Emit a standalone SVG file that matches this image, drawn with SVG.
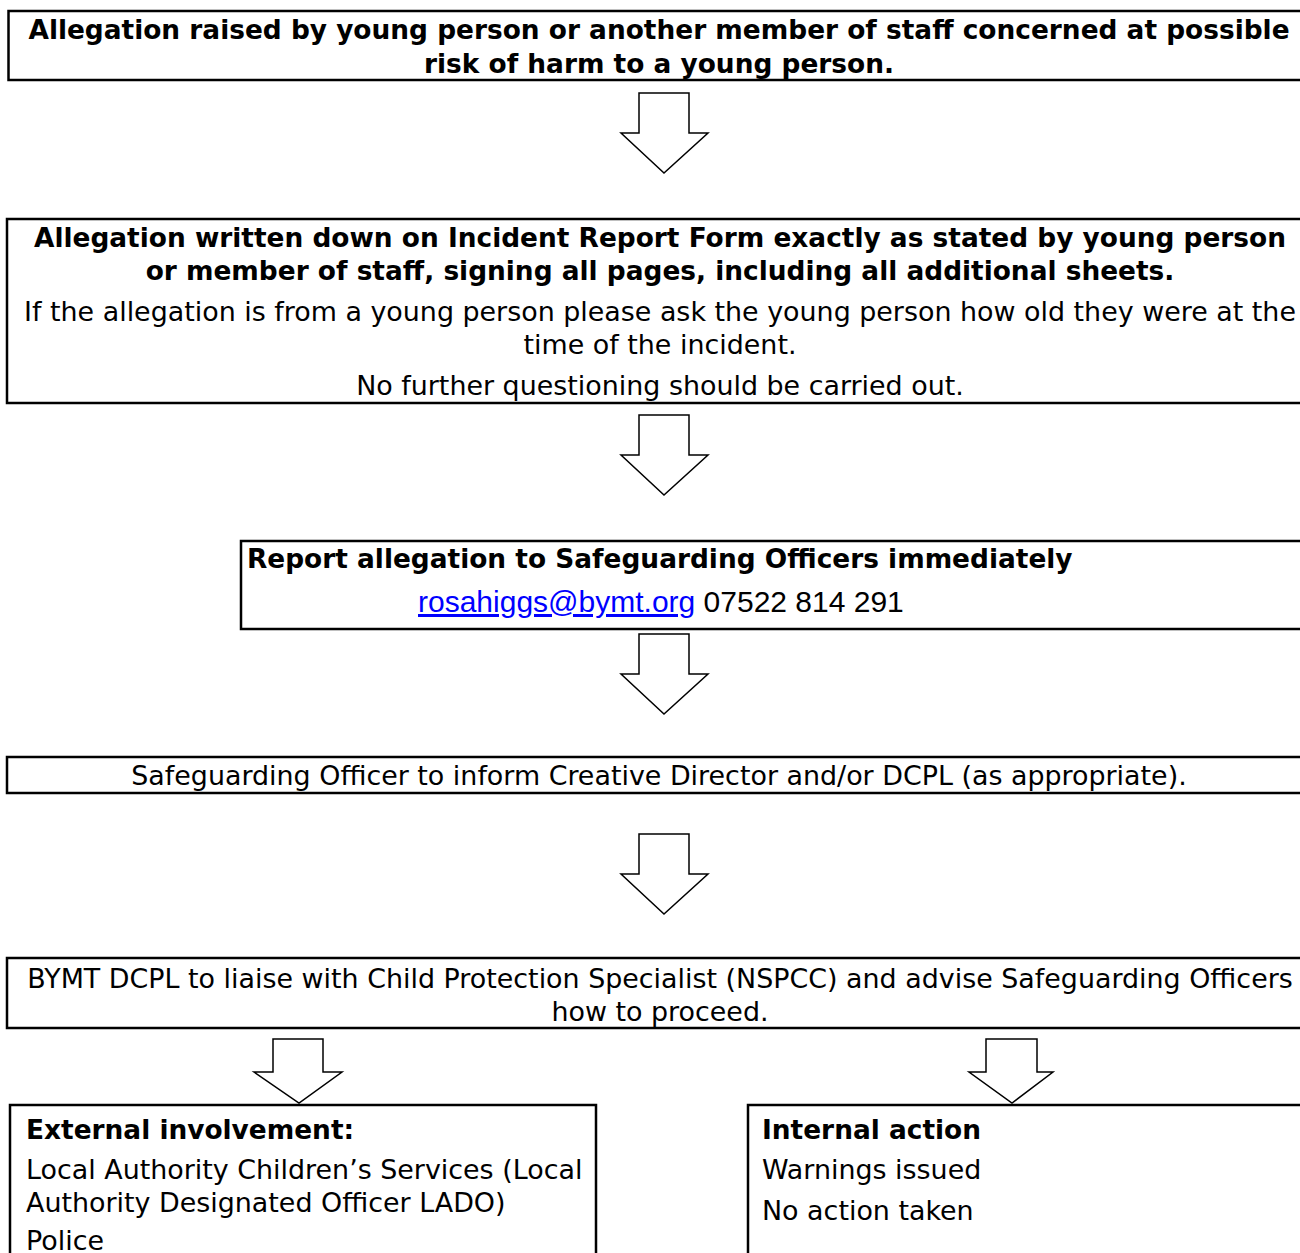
<svg xmlns="http://www.w3.org/2000/svg" width="1300" height="1253" viewBox="0 0 1300 1253">
<style>
.box{fill:#fff;stroke:#000;stroke-width:2.5}
.arr{fill:#fff;stroke:#000;stroke-width:1.5;stroke-linejoin:miter}
.t{font-family:"DejaVu Sans",Verdana,sans-serif;font-size:26.9px;fill:#000}
.b{font-weight:bold;font-size:26.4px}
.c{text-anchor:middle}
.a{font-family:"Liberation Sans",Arial,sans-serif;font-size:30px;fill:#000}
.link{fill:#0000ff;text-decoration:underline}
</style>
<rect width="1300" height="1253" fill="#fff"/>
<g id="connectors">
<path class="arr" d="M639,93 H689 V133 H708 L664,173 L621,133 H639 Z"/>
<path class="arr" d="M639,415 H689 V455 H708 L664,495 L621,455 H639 Z"/>
<path class="arr" d="M639,634 H689 V674 H708 L664,714 L621,674 H639 Z"/>
<path class="arr" d="M639,834 H689 V874 H708 L664,914 L621,874 H639 Z"/>
<path class="arr" d="M273,1039 H323 V1072 H342 L299,1103 L254,1072 H273 Z"/>
<path class="arr" d="M986,1039 H1037 V1072 H1053 L1012,1103 L969,1072 H986 Z"/>
</g>
<g id="n1">
<rect class="box" x="8.5" y="11" width="1320" height="69"/>
<text class="t b c" x="659" y="39">Allegation raised by young person or another member of staff concerned at possible</text>
<text class="t b c" x="659" y="73">risk of harm to a young person.</text>
</g>
<g id="n2">
<rect class="box" x="7" y="219" width="1320" height="184"/>
<text class="t b c" x="660" y="247">Allegation written down on Incident Report Form exactly as stated by young person</text>
<text class="t b c" x="660" y="280">or member of staff, signing all pages, including all additional sheets.</text>
<text class="t c" x="660" y="321">If the allegation is from a young person please ask the young person how old they were at the</text>
<text class="t c" x="660" y="354">time of the incident.</text>
<text class="t c" x="660" y="395">No further questioning should be carried out.</text>
</g>
<g id="n3">
<rect class="box" x="241" y="541" width="1100" height="88"/>
<text class="t b" x="247" y="568">Report allegation to Safeguarding Officers immediately</text>
<text class="a" x="418" y="612"><tspan class="link">rosahiggs@bymt.org</tspan> 07522 814 291</text>
</g>
<g id="n4">
<rect class="box" x="7" y="757" width="1320" height="36"/>
<text class="t c" x="659" y="785">Safeguarding Officer to inform Creative Director and/or DCPL (as appropriate).</text>
</g>
<g id="n5">
<rect class="box" x="7" y="958" width="1320" height="70"/>
<text class="t c" x="660" y="988">BYMT DCPL to liaise with Child Protection Specialist (NSPCC) and advise Safeguarding Officers</text>
<text class="t c" x="660" y="1021">how to proceed.</text>
</g>
<g id="n6">
<rect class="box" x="10" y="1105" width="586" height="200"/>
<text class="t b" x="26" y="1139">External involvement:</text>
<text class="t" x="26" y="1179">Local Authority Children’s Services (Local</text>
<text class="t" x="26" y="1212">Authority Designated Officer LADO)</text>
<text class="t" x="26" y="1250">Police</text>
</g>
<g id="n7">
<rect class="box" x="748" y="1105" width="600" height="200"/>
<text class="t b" x="762" y="1139">Internal action</text>
<text class="t" x="762" y="1179">Warnings issued</text>
<text class="t" x="762" y="1220">No action taken</text>
</g>
</svg>
